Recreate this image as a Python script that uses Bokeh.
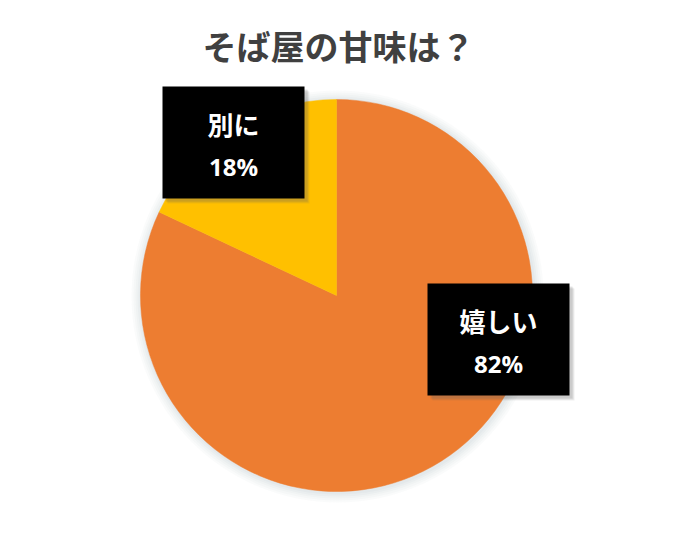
import math
from bokeh.plotting import figure
from bokeh.models import Range1d
from bokeh.core.properties import value
from bokeh.embed import file_html
from bokeh.resources import INLINE

# ---- data ----
title_text = "そば屋の甘味は？"
categories = ["嬉しい", "別に"]
values = [82, 18]
colors = ["#ED7D31", "#FFC000"]

# ---- layout constants (pixels, y measured downward from top) ----
W, H = 668, 526
CX, CY, R = 336, 526 - 295, 196
label_boxes = {"嬉しい": (498, 339), "別に": (233, 142)}
BOX_W, BOX_H = 142, 112

p = figure(width=W, height=H, output_backend="svg", toolbar_location=None,
           x_range=Range1d(0, W), y_range=Range1d(0, H), min_border=0,
           background_fill_color="white", border_fill_color="white")
p.axis.visible = False
p.grid.visible = False
p.outline_line_color = None

# soft glow shadow around pie
for i, a in enumerate([0.05, 0.05, 0.05, 0.06, 0.07]):
    p.circle(x=[CX + 1], y=[CY - 1], radius=R + 10 - i * 2,
             fill_color="#9aa8b8", fill_alpha=a, line_color=None)

# wedges: start at 12 o'clock, clockwise
total = sum(values)
cum = 0.0
starts, ends = [], []
for v in values:
    s = cum / total
    cum += v
    e = cum / total
    starts.append(math.pi / 2 - e * 2 * math.pi)
    ends.append(math.pi / 2 - s * 2 * math.pi)
p.wedge(x=[CX] * len(values), y=[CY] * len(values), radius=R,
        start_angle=starts, end_angle=ends, direction="anticlock",
        fill_color=colors, line_color=colors, line_width=0.5)

# title
p.text(x=[338], y=[H - 45], text=[title_text],
       text_font=value("Noto Sans CJK JP"), text_font_style="bold",
       text_font_size="34px", text_color="#404040",
       text_align="center", text_baseline="middle")

# label boxes
for cat, v in zip(categories, values):
    bx, by = label_boxes[cat]
    yy = H - by
    for k, a in enumerate([0.10, 0.12, 0.15]):
        off = 5 - k
        p.rect(x=[bx + off], y=[yy - off], width=BOX_W, height=BOX_H,
               fill_color="#606060", fill_alpha=a, line_color=None)
    p.rect(x=[bx], y=[yy], width=BOX_W, height=BOX_H,
           fill_color="black", line_color=None)
    p.text(x=[bx], y=[yy + 19], text=[cat],
           text_font=value("Noto Sans CJK JP"), text_font_style="bold",
           text_font_size="26px", text_color="white",
           text_align="center", text_baseline="middle")
    p.text(x=[bx], y=[yy - 24], text=[f"{v}%"],
           text_font=value("Open Sans"), text_font_style="bold",
           text_font_size="24px", text_color="white",
           text_align="center", text_baseline="middle")

open("out.html", "w").write(file_html(p, INLINE))
